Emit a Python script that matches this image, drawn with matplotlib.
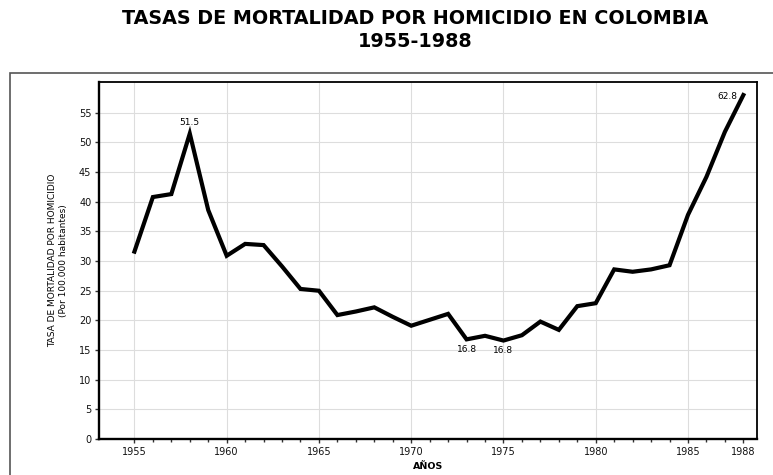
import matplotlib
matplotlib.use("Agg")
import matplotlib.pyplot as plt
from matplotlib.patches import Rectangle

plt.rcParams['font.family'] = ['DejaVu Sans']

# homicide rate per 100.000 inhabitants
years = list(range(1955, 1989))
rates = [31.6, 40.8, 41.3, 51.5, 38.6, 30.9, 32.9, 32.7, 29.1, 25.3,
         25.0, 20.9, 21.5, 22.2, 20.6, 19.1, 20.1, 21.1, 16.8, 17.4,
         16.6, 17.5, 19.8, 18.4, 22.4, 22.9, 28.6, 28.2, 28.6, 29.3,
         37.8, 44.2, 51.8, 58.0]

major_years = [1955, 1960, 1965, 1970, 1975, 1980, 1985, 1988]
y_ticks = list(range(0, 60, 5))

# labelled points: (year, value, text)
labels = [(1958, 51.5, '51.5'), (1973, 16.8, '16.8'),
          (1975, 16.6, '16.8'), (1988, 58.0, '62.8')]

title = 'TASAS DE MORTALIDAD POR HOMICIDIO EN COLOMBIA\n1955-1988'
y_title = 'TASA DE MORTALIDAD POR HOMICIDIO\n(Por 100.000 habitantes)'
x_title = 'AÑOS'

fig = plt.figure(figsize=(7.73, 4.75), dpi=100)
fig.patch.set_facecolor('white')

# outer frame around the plot (runs off the right and bottom edge)
fig.patches.append(Rectangle((10 / 773, -0.05), 1.2, 1 - 73 / 475 + 0.05,
                             transform=fig.transFigure, fill=False,
                             edgecolor='#555555', linewidth=1.2))

fig.text(0.537, 1 - 30 / 475, title, ha='center', va='center',
         fontsize=13.8, fontweight='bold', linespacing=1.3)

ax = fig.add_axes([99 / 773, 1 - 439 / 475, (757 - 99) / 773, (439 - 82) / 475])
ax.plot(years, rates, color='black', linewidth=3.0, solid_joinstyle='miter',
        zorder=3)

ax.set_xlim(1953.08, 1988.74)
ax.set_ylim(0, 60.2)
ax.set_xticks(major_years)
ax.set_xticks(years, minor=True)
ax.set_yticks(y_ticks)
ax.tick_params(axis='both', labelsize=7, length=3, width=1, color='#333333',
               pad=2.5, labelcolor='#111111')
ax.tick_params(axis='x', which='minor', length=2, width=1, color='#333333')

for gx in range(1955, 1986, 5):
    ax.axvline(gx, color='#dddddd', linewidth=0.8, zorder=0)
for gy in y_ticks[1:]:
    ax.axhline(gy, color='#dddddd', linewidth=0.8, zorder=0)

for name, sp in ax.spines.items():
    sp.set_color('black')
    sp.set_linewidth(1.7 if name in ('left', 'bottom') else 1.3)

for yr, val, txt in labels:
    if yr == 1958:
        ax.annotate(txt, (yr, val), xytext=(0, 5), textcoords='offset points',
                    ha='center', va='bottom', fontsize=6.5)
    elif yr == 1988:
        ax.annotate(txt, (yr, val), xytext=(-4, -1), textcoords='offset points',
                    ha='right', va='center', fontsize=6.5)
    else:
        ax.annotate(txt, (yr, val), xytext=(0, -4), textcoords='offset points',
                    ha='center', va='top', fontsize=6.5)

ax.set_ylabel(y_title, fontsize=6.5, linespacing=1.25, labelpad=8)
ax.set_xlabel(x_title, fontsize=6.8, fontweight='bold', labelpad=4)

fig.savefig('out.png', dpi=100)
